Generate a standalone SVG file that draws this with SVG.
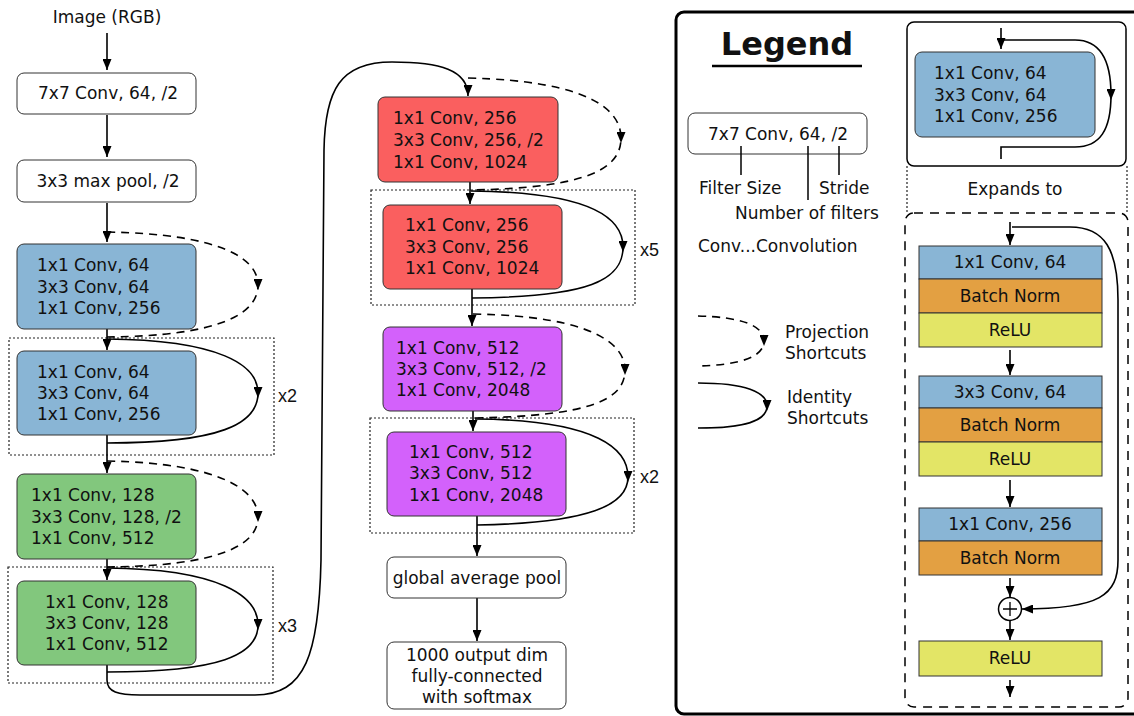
<svg xmlns="http://www.w3.org/2000/svg" width="1134" height="716" viewBox="0 0 1134 716">
<defs>
<style>
text{font-family:"DejaVu Sans",Verdana,sans-serif;font-size:17px;fill:#111}
.c{text-anchor:middle}
.rep{font-family:"Liberation Sans",Arial,sans-serif;font-size:18px}
.box{stroke:#333;stroke-width:1}
.w{fill:#fff}
.blue{fill:#89B5D5}
.green{fill:#82C77D}
.red{fill:#FA5F5F}
.purple{fill:#D361FB}
.orange{fill:#E3A042}
.yellow{fill:#E3E566}
.ln{fill:none;stroke:#000;stroke-width:1.6}
.dash{stroke-dasharray:8,6}
.dot{fill:none;stroke:#222;stroke-width:1.2;stroke-dasharray:2,2}
</style>
<marker id="arr" markerUnits="userSpaceOnUse" markerWidth="11" markerHeight="9" viewBox="0 0 11 9" refX="11" refY="4.5" orient="auto"><path d="M0,0 L11,4.5 L0,9 z" fill="#000"/></marker>
<marker id="mid" markerUnits="userSpaceOnUse" markerWidth="11" markerHeight="9" viewBox="0 0 11 9" refX="6" refY="4.5" orient="auto"><path d="M0,0 L11,4.5 L0,9 z" fill="#000"/></marker>
</defs>

<!-- repeat frames -->
<g id="frames">
<rect class="dot" x="9" y="338" width="265" height="117"/>
<rect class="dot" x="8" y="567" width="265" height="116"/>
<rect class="dot" x="371" y="190" width="264" height="115"/>
<rect class="dot" x="370" y="418" width="264" height="115"/>
<text class="rep" x="278" y="402">x2</text>
<text class="rep" x="278" y="632">x3</text>
<text class="rep" x="640" y="256">x5</text>
<text class="rep" x="640" y="483">x2</text>
</g>

<g id="connectors">
<path class="ln" d="M107,33 L107,70" marker-end="url(#arr)"/>
<path class="ln" d="M107,115 L107,157" marker-end="url(#arr)"/>
<path class="ln" d="M107,203 L107,242" marker-end="url(#arr)"/>
<path class="ln dash" d="M107,232 C220,234 258,258 258,285 C258,314 220,336 107,337" marker-mid="url(#mid)"/>
<path class="ln" d="M107,329 L107,350" marker-end="url(#arr)"/>
<path class="ln" d="M107,339 C220,340 258,365 258,393 C258,424 220,443 107,443" marker-mid="url(#mid)"/>
<path class="ln" d="M107,435 L107,473" marker-end="url(#arr)"/>
<path class="ln dash" d="M107,461 C220,463 258,490 258,517 C258,545 220,566 107,567" marker-mid="url(#mid)"/>
<path class="ln" d="M107,559 L107,580" marker-end="url(#arr)"/>
<path class="ln" d="M107,568 C220,569 258,596 258,625 C258,655 220,672 107,672" marker-mid="url(#mid)"/>
<path class="ln" d="M107,665 L107,680 C107,692 118,695 140,695 L255,695 C305,695 319,655 321,560 L324,150 C325,90 340,62 392,62 C440,62 468,70 468,96" marker-end="url(#arr)"/>
<path class="ln dash" d="M468,78 C590,81 621,110 621,138 C621,168 590,188 470,190" marker-mid="url(#mid)"/>
<path class="ln" d="M470,182 L470,204" marker-end="url(#arr)"/>
<path class="ln" d="M471,191 C595,192 623,220 623,247 C623,280 590,297 472,298" marker-mid="url(#mid)"/>
<path class="ln" d="M472,289 L472,326" marker-end="url(#arr)"/>
<path class="ln dash" d="M473,314 C595,316 625,345 625,370 C625,400 590,416 474,418" marker-mid="url(#mid)"/>
<path class="ln" d="M473,411 L473,431" marker-end="url(#arr)"/>
<path class="ln" d="M475,419 C600,420 628,450 628,477 C628,505 590,523 477,525" marker-mid="url(#mid)"/>
<path class="ln" d="M477,516 L477,556" marker-end="url(#arr)"/>
<path class="ln" d="M477,598 L477,641" marker-end="url(#arr)"/>
</g>

<g id="n-image"><text class="c" x="107" y="23">Image (RGB)</text></g>
<g id="n-conv1"><rect class="box w" x="17" y="73" width="179" height="41" rx="7"/><text class="c" x="108" y="99">7x7 Conv, 64, /2</text></g>
<g id="n-pool"><rect class="box w" x="17" y="160" width="179" height="42" rx="7"/><text class="c" x="108" y="187">3x3 max pool, /2</text></g>
<g id="n-b1a"><rect class="box blue" x="17" y="244" width="179" height="85" rx="7"/><text x="37" y="271">1x1 Conv, 64</text><text x="37" y="293">3x3 Conv, 64</text><text x="37" y="314">1x1 Conv, 256</text></g>
<g id="n-b1b"><rect class="box blue" x="17" y="351" width="179" height="84" rx="7"/><text x="37" y="378">1x1 Conv, 64</text><text x="37" y="399">3x3 Conv, 64</text><text x="37" y="420">1x1 Conv, 256</text></g>
<g id="n-b2a"><rect class="box green" x="17" y="474" width="179" height="85" rx="7"/><text x="31" y="501">1x1 Conv, 128</text><text x="31" y="523">3x3 Conv, 128, /2</text><text x="31" y="544">1x1 Conv, 512</text></g>
<g id="n-b2b"><rect class="box green" x="17" y="581" width="179" height="84" rx="7"/><text x="45" y="608">1x1 Conv, 128</text><text x="45" y="629">3x3 Conv, 128</text><text x="45" y="650">1x1 Conv, 512</text></g>
<g id="n-b3a"><rect class="box red" x="378" y="97" width="180" height="85" rx="7"/><text x="393" y="124">1x1 Conv, 256</text><text x="393" y="146">3x3 Conv, 256, /2</text><text x="393" y="168">1x1 Conv, 1024</text></g>
<g id="n-b3b"><rect class="box red" x="383" y="205" width="179" height="84" rx="7"/><text x="405" y="231">1x1 Conv, 256</text><text x="405" y="253">3x3 Conv, 256</text><text x="405" y="274">1x1 Conv, 1024</text></g>
<g id="n-b4a"><rect class="box purple" x="383" y="327" width="179" height="84" rx="7"/><text x="396" y="354">1x1 Conv, 512</text><text x="396" y="375">3x3 Conv, 512, /2</text><text x="396" y="396">1x1 Conv, 2048</text></g>
<g id="n-b4b"><rect class="box purple" x="387" y="432" width="179" height="84" rx="7"/><text x="409" y="458">1x1 Conv, 512</text><text x="409" y="479">3x3 Conv, 512</text><text x="409" y="501">1x1 Conv, 2048</text></g>
<g id="n-gap"><rect class="box w" x="387" y="557" width="179" height="41" rx="7"/><text class="c" x="477" y="584">global average pool</text></g>
<g id="n-fc"><rect class="box w" x="387" y="642" width="179" height="67" rx="7"/><text class="c" x="477" y="661">1000 output dim</text><text class="c" x="477" y="682">fully-connected</text><text class="c" x="477" y="703">with softmax</text></g>

<g id="legend">
<rect x="676" y="12" width="480" height="702" rx="8" fill="none" stroke="#000" stroke-width="3"/>
<text class="c" x="787" y="55" style="font-size:32px;font-weight:bold">Legend</text>
<line x1="712" y1="66" x2="862" y2="66" stroke="#000" stroke-width="2.5"/>
<rect class="box w" x="688" y="113" width="179" height="41" rx="7"/>
<text class="c" x="778" y="140">7x7 Conv, 64, /2</text>
<line x1="741" y1="146" x2="741" y2="175" stroke="#000" stroke-width="1.5"/>
<line x1="808" y1="146" x2="808" y2="200" stroke="#000" stroke-width="1.5"/>
<line x1="839" y1="146" x2="839" y2="175" stroke="#000" stroke-width="1.5"/>
<text x="699" y="194">Filter Size</text>
<text x="819" y="194">Stride</text>
<text x="735" y="219">Number of filters</text>
<text x="698" y="252">Conv...Convolution</text>
<path class="ln dash" d="M698,316 C740,317 764,325 764,341 C764,357 740,365 698,366" marker-mid="url(#mid)"/>
<text x="785" y="338">Projection</text>
<text x="785" y="359">Shortcuts</text>
<path class="ln" d="M698,383 C745,383 767,392 767,406 C767,421 745,428 698,428" marker-mid="url(#mid)"/>
<text x="787" y="403">Identity</text>
<text x="787" y="424">Shortcuts</text>
</g>

<g id="block-example">
<rect x="907" y="22" width="219" height="144" rx="7" fill="#fff" stroke="#000" stroke-width="1.5"/>
<rect class="box blue" x="915" y="52" width="180" height="85" rx="7"/>
<text x="934" y="79">1x1 Conv, 64</text>
<text x="934" y="101">3x3 Conv, 64</text>
<text x="934" y="122">1x1 Conv, 256</text>
<path class="ln" d="M1001,28 L1001,49" marker-end="url(#arr)"/>
<path class="ln" d="M1001,40 L1075,40 C1100,40 1111,60 1111,95" marker-end="url(#mid)"/>
<path class="ln" d="M1111,95 C1111,130 1100,147 1075,147 L1001,147 L1001,159"/>
<line class="dot" x1="907" y1="166" x2="907" y2="213"/>
<line class="dot" x1="1127" y1="166" x2="1127" y2="213"/>
<text class="c" x="1015" y="195">Expands to</text>
</g>

<g id="expanded">
<rect x="905" y="213" width="223" height="494" rx="9" fill="none" stroke="#000" stroke-width="1.5" stroke-dasharray="9,7"/>
<g id="l1"><rect class="box blue" x="919" y="246" width="183" height="33"/><text class="c" x="1010" y="268">1x1 Conv, 64</text></g>
<g id="l2"><rect class="box orange" x="919" y="279" width="183" height="34"/><text class="c" x="1010" y="302">Batch Norm</text></g>
<g id="l3"><rect class="box yellow" x="919" y="313" width="183" height="34"/><text class="c" x="1010" y="336">ReLU</text></g>
<g id="l4"><rect class="box blue" x="919" y="376" width="183" height="32"/><text class="c" x="1010" y="398">3x3 Conv, 64</text></g>
<g id="l5"><rect class="box orange" x="919" y="408" width="183" height="34"/><text class="c" x="1010" y="431">Batch Norm</text></g>
<g id="l6"><rect class="box yellow" x="919" y="442" width="183" height="34"/><text class="c" x="1010" y="465">ReLU</text></g>
<g id="l7"><rect class="box blue" x="919" y="508" width="183" height="33"/><text class="c" x="1010" y="530">1x1 Conv, 256</text></g>
<g id="l8"><rect class="box orange" x="919" y="541" width="183" height="34"/><text class="c" x="1010" y="564">Batch Norm</text></g>
<g id="add"><circle cx="1010" cy="609" r="11.5" fill="#fff" stroke="#000" stroke-width="1.5"/><path d="M1003,609 H1017 M1010,602 V616" stroke="#000" stroke-width="1.3"/></g>
<g id="l9"><rect class="box yellow" x="919" y="641" width="183" height="35"/><text class="c" x="1010" y="664">ReLU</text></g>
<g id="exp-connectors">
<path class="ln" d="M1010,222 L1010,245" marker-end="url(#arr)"/>
<path class="ln" d="M1010,350 L1010,375" marker-end="url(#arr)"/>
<path class="ln" d="M1010,480 L1010,507" marker-end="url(#arr)"/>
<path class="ln" d="M1010,578 L1010,597" marker-end="url(#arr)"/>
<path class="ln" d="M1010,621 L1010,640" marker-end="url(#arr)"/>
<path class="ln" d="M1010,680 L1010,697" marker-end="url(#arr)"/>
<path class="ln" d="M1012,227 L1070,227 C1105,227 1118,250 1118,300 L1118,560 C1118,595 1100,609 1022,609" marker-end="url(#arr)"/>
</g>
</g>
</svg>
